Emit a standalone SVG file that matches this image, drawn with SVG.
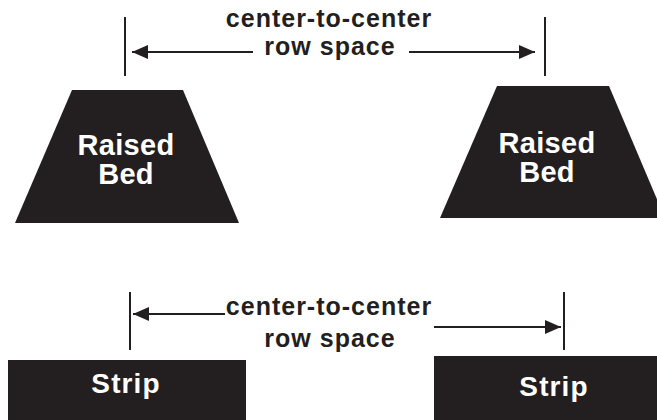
<svg xmlns="http://www.w3.org/2000/svg" width="657" height="420" viewBox="0 0 657 420">
<style>
.shape{fill:#231f20}
.lbl{font-family:"Liberation Sans",Arial,sans-serif;font-weight:bold;fill:#ffffff;text-anchor:middle}
.big{font-size:29px;letter-spacing:0.3px}
.strip{font-size:28px;letter-spacing:1.1px}
.note{font-family:"Liberation Sans",Arial,sans-serif;font-weight:bold;font-size:25px;letter-spacing:1px;fill:#231f20;text-anchor:middle}
.conn line{stroke:#231f20;stroke-width:2}
</style>
<defs>
<marker id="ah" markerUnits="userSpaceOnUse" markerWidth="16" markerHeight="14" refX="16" refY="7" orient="auto">
<path d="M0,0 L16,7 L0,14 z" fill="#231f20"/>
</marker>
</defs>
<rect width="657" height="420" fill="#ffffff"/>
<g id="bed-left">
<polygon class="shape" points="72,90 183,90 239,223 15,223"/>
<text class="lbl big" x="126" y="155">Raised</text>
<text class="lbl big" x="126" y="184">Bed</text>
</g>
<g id="bed-right">
<polygon class="shape" points="497,86 609,86 665,218 440,218"/>
<text class="lbl big" x="547" y="153">Raised</text>
<text class="lbl big" x="547" y="182">Bed</text>
</g>
<g id="strip-left">
<rect class="shape" x="8" y="360" width="238" height="60"/>
<text class="lbl strip" x="126" y="393">Strip</text>
</g>
<g id="strip-right">
<rect class="shape" x="434" y="356" width="223" height="64"/>
<text class="lbl strip" x="554" y="396">Strip</text>
</g>
<g id="label-top">
<text class="note" x="329" y="27">center-to-center</text>
<text class="note" x="330" y="55">row space</text>
</g>
<g id="label-bottom">
<text class="note" x="329" y="315">center-to-center</text>
<text class="note" x="330" y="347">row space</text>
</g>
<g id="connectors" class="conn">
<line x1="125" y1="17" x2="125" y2="76"/>
<line x1="545" y1="17" x2="545" y2="76"/>
<line x1="253" y1="52" x2="132" y2="52" marker-end="url(#ah)"/>
<line x1="409" y1="52" x2="535" y2="52" marker-end="url(#ah)"/>
<line x1="130" y1="292" x2="130" y2="350"/>
<line x1="564" y1="292" x2="564" y2="350"/>
<line x1="225" y1="314" x2="133" y2="314" marker-end="url(#ah)"/>
<line x1="434" y1="327" x2="561" y2="327" marker-end="url(#ah)"/>
</g>
</svg>
